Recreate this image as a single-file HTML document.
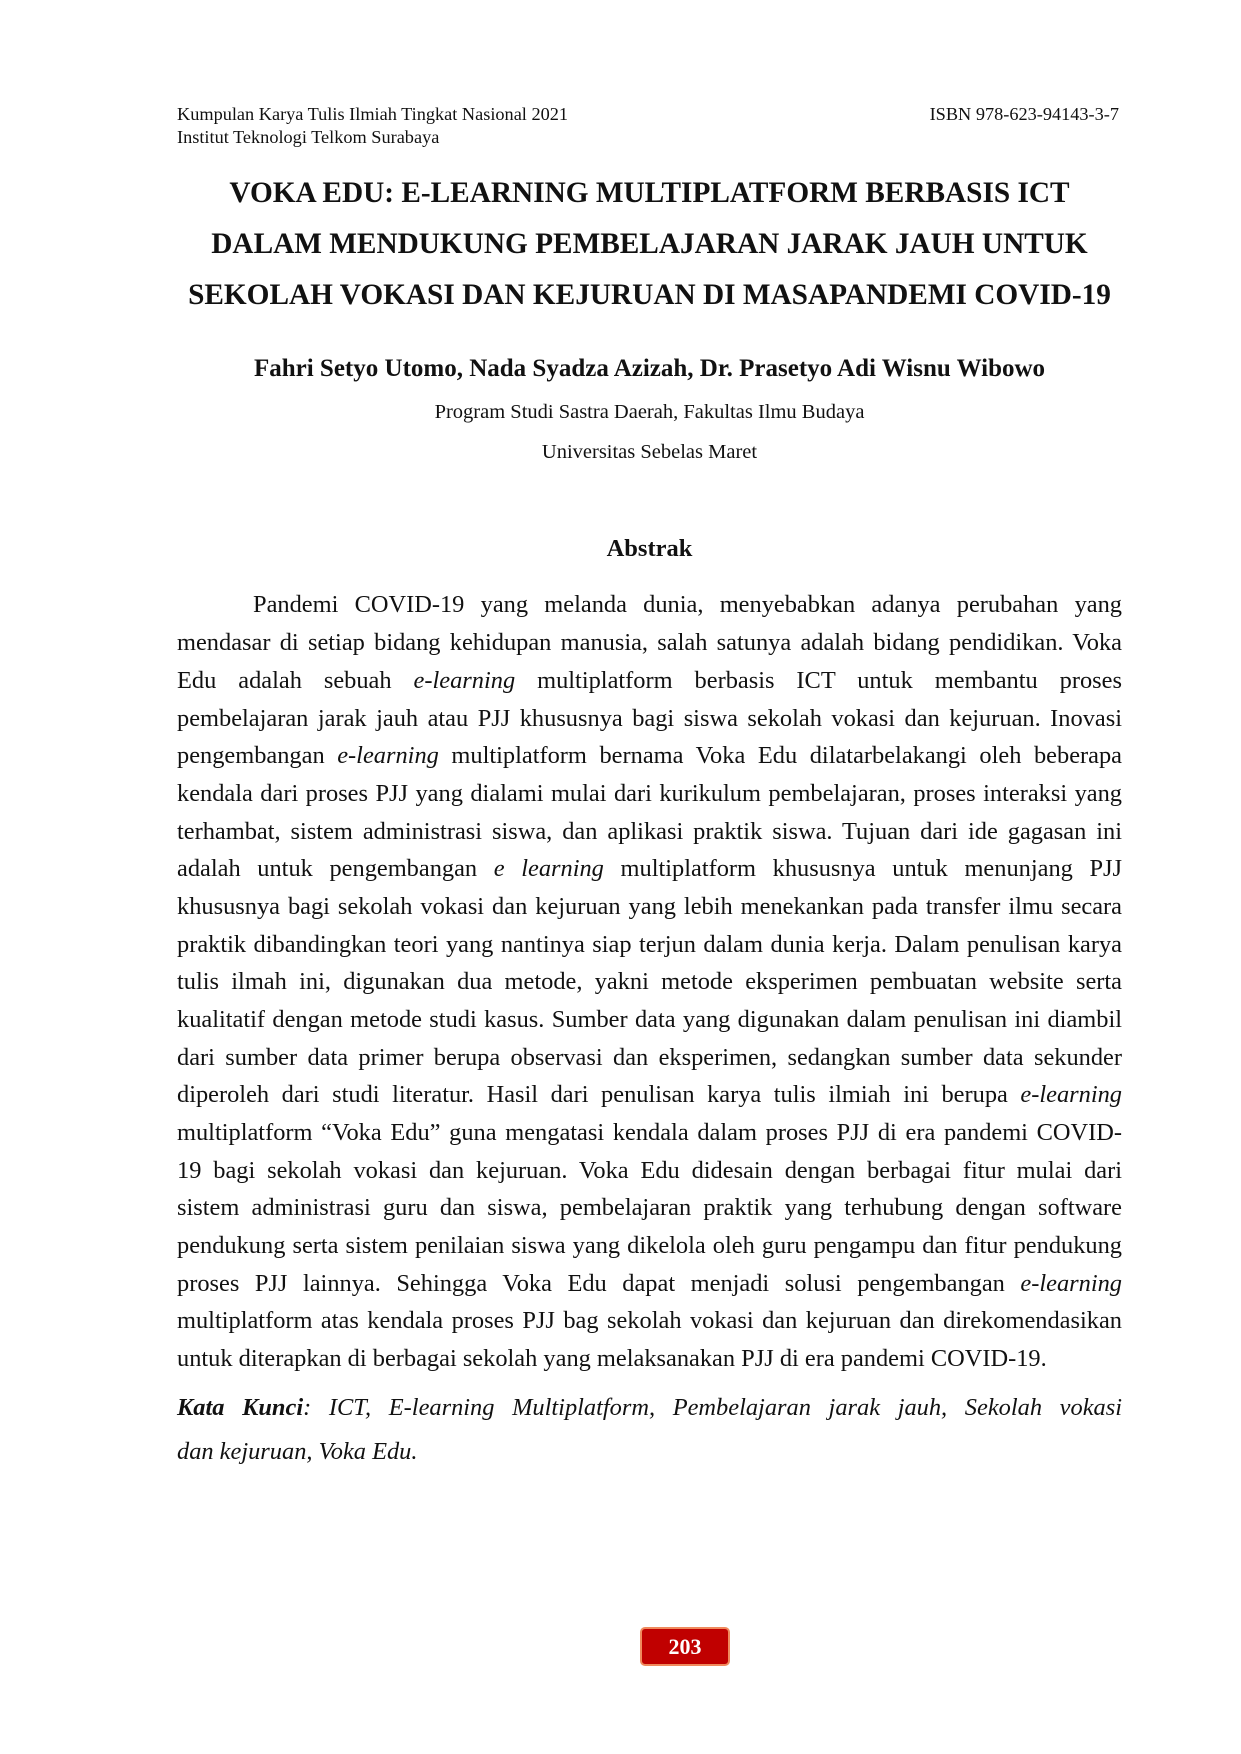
<!DOCTYPE html>
<html><head><meta charset="utf-8"><style>
body{margin:0;background:#fff;}
.pg{position:relative;width:1241px;height:1754px;font-family:"Liberation Serif",serif;color:#111;}
.a{position:absolute;white-space:nowrap;}
.hd{font-size:18.3px;}
.t{position:absolute;left:177px;width:945px;text-align:center;font-weight:bold;font-size:29.3px;white-space:nowrap;}
.c{position:absolute;left:177px;width:945px;text-align:center;white-space:nowrap;}
.l{position:absolute;left:177px;width:945px;font-size:24.4px;text-align:justify;text-align-last:justify;white-space:nowrap;}
.e{text-align-last:left;}
</style></head><body><div class="pg">
<div class="a hd" style="left:177px;top:104px">Kumpulan Karya Tulis Ilmiah Tingkat Nasional 2021</div>
<div class="a hd" style="left:177px;top:127px">Institut Teknologi Telkom Surabaya</div>
<div class="a hd" style="right:122px;top:104px">ISBN 978-623-94143-3-7</div>
<div class="t" style="top:177px">VOKA EDU: E-LEARNING MULTIPLATFORM BERBASIS ICT</div>
<div class="t" style="top:228px">DALAM MENDUKUNG PEMBELAJARAN JARAK JAUH UNTUK</div>
<div class="t" style="top:279px">SEKOLAH VOKASI DAN KEJURUAN DI MASAPANDEMI COVID-19</div>
<div class="c" style="top:355px;font-size:25px;font-weight:bold">Fahri Setyo Utomo, Nada Syadza Azizah, Dr. Prasetyo Adi Wisnu Wibowo</div>
<div class="c" style="top:401px;font-size:20.5px">Program Studi Sastra Daerah, Fakultas Ilmu Budaya</div>
<div class="c" style="top:441px;font-size:20.5px">Universitas Sebelas Maret</div>
<div class="c" style="top:535px;font-size:24.5px;font-weight:bold">Abstrak</div>
<div class="l" style="top:591px;left:253px;width:869px">Pandemi COVID-19 yang melanda dunia, menyebabkan adanya perubahan yang</div>
<div class="l" style="top:629px">mendasar di setiap bidang kehidupan manusia, salah satunya adalah bidang pendidikan. Voka</div>
<div class="l" style="top:667px">Edu adalah sebuah <i>e-learning</i> multiplatform berbasis ICT untuk membantu proses</div>
<div class="l" style="top:705px">pembelajaran jarak jauh atau PJJ khususnya bagi siswa sekolah vokasi dan kejuruan. Inovasi</div>
<div class="l" style="top:742px">pengembangan <i>e-learning</i> multiplatform bernama Voka Edu dilatarbelakangi oleh beberapa</div>
<div class="l" style="top:780px">kendala dari proses PJJ yang dialami mulai dari kurikulum pembelajaran, proses interaksi yang</div>
<div class="l" style="top:818px">terhambat, sistem administrasi siswa, dan aplikasi praktik siswa. Tujuan dari ide gagasan ini</div>
<div class="l" style="top:855px">adalah untuk pengembangan <i>e learning</i> multiplatform khususnya untuk menunjang PJJ</div>
<div class="l" style="top:893px">khususnya bagi sekolah vokasi dan kejuruan yang lebih menekankan pada transfer ilmu secara</div>
<div class="l" style="top:931px">praktik dibandingkan teori yang nantinya siap terjun dalam dunia kerja. Dalam penulisan karya</div>
<div class="l" style="top:968px">tulis ilmah ini, digunakan dua metode, yakni metode eksperimen pembuatan website serta</div>
<div class="l" style="top:1006px">kualitatif dengan metode studi kasus. Sumber data yang digunakan dalam penulisan ini diambil</div>
<div class="l" style="top:1044px">dari sumber data primer berupa observasi dan eksperimen, sedangkan sumber data sekunder</div>
<div class="l" style="top:1081px">diperoleh dari studi literatur. Hasil dari penulisan karya tulis ilmiah ini berupa <i>e-learning</i></div>
<div class="l" style="top:1119px">multiplatform “Voka Edu” guna mengatasi kendala dalam proses PJJ di era pandemi COVID-</div>
<div class="l" style="top:1157px">19 bagi sekolah vokasi dan kejuruan. Voka Edu didesain dengan berbagai fitur mulai dari</div>
<div class="l" style="top:1194px">sistem administrasi guru dan siswa, pembelajaran praktik yang terhubung dengan software</div>
<div class="l" style="top:1232px">pendukung serta sistem penilaian siswa yang dikelola oleh guru pengampu dan fitur pendukung</div>
<div class="l" style="top:1270px">proses PJJ lainnya. Sehingga Voka Edu dapat menjadi solusi pengembangan <i>e-learning</i></div>
<div class="l" style="top:1307px">multiplatform atas kendala proses PJJ bag sekolah vokasi dan kejuruan dan direkomendasikan</div>
<div class="l e" style="top:1345px">untuk diterapkan di berbagai sekolah yang melaksanakan PJJ di era pandemi COVID-19.</div>
<div class="l" style="top:1394px"><b><i>Kata Kunci</i></b><i>: ICT, E-learning Multiplatform, Pembelajaran jarak jauh, Sekolah vokasi</i></div>
<div class="l e" style="top:1438px"><i>dan kejuruan, Voka Edu.</i></div>
<div class="a" style="left:640px;top:1627px;width:86px;height:35px;background:#c00000;border:2px solid #f08a5d;border-radius:5px;color:#fff;font-weight:bold;font-size:22px;text-align:center;line-height:35px">203</div>
</div></body></html>
